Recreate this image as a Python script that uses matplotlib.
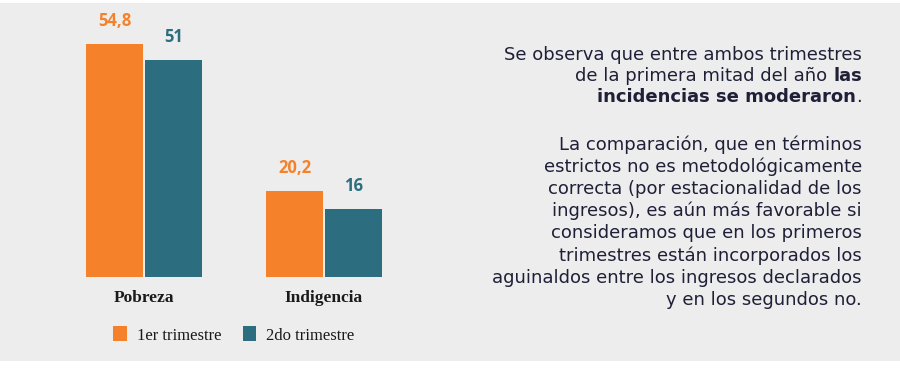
import numpy as np
import matplotlib.pyplot as plt
from matplotlib.patches import Rectangle

# data
categories = ['Pobreza', 'Indigencia']
trim1 = [54.8, 20.2]
trim2 = [51, 16]
series_names = ['1er trimestre', '2do trimestre']

orange = '#F5822A'
teal = '#2C6E7F'
bg = '#EDEDED'
txt = '#1F1F38'

fig = plt.figure(figsize=(9, 3.7), dpi=100)
fig.patch.set_facecolor('white')
fig.patches.append(Rectangle((0, 9 / 370), 1, 358 / 370, transform=fig.transFigure,
                             facecolor=bg, edgecolor='none', zorder=-5))

ax = fig.add_axes([54 / 900, 93 / 370, 360 / 900, 255 / 370])
ax.set_facecolor('none')
x = np.arange(len(categories))
w = 0.317
off = 0.164
b1 = ax.bar(x - off, trim1, w, color=orange, label=series_names[0])
b2 = ax.bar(x + off, trim2, w, color=teal, label=series_names[1])
ax.set_xlim(-0.5, 1.5)
ax.set_ylim(0, 60)
for s in ax.spines.values():
    s.set_visible(False)
ax.set_yticks([])
ax.set_xticks(x)
ax.set_xticklabels(categories, family='Liberation Serif', fontweight='bold', fontsize=12.5,
                   color='#1a1a1a')
ax.tick_params(axis='x', length=0, pad=9)

def fmt(v):
    return ('%g' % v).replace('.', ',')

for bars, vals, c in [(b1, trim1, orange), (b2, trim2, teal)]:
    for b, v in zip(bars, vals):
        ax.annotate(fmt(v), (b.get_x() + b.get_width() / 2, v), xytext=(0, 10),
                    textcoords='offset points', ha='center', va='bottom',
                    color=c, fontweight='bold', fontsize=12, family='Open Sans')

leg = fig.legend(handles=[b1, b2], labels=series_names, loc='center',
                 bbox_to_anchor=(234 / 900, 1 - 335 / 370), ncol=2, frameon=False,
                 prop={'family': 'Liberation Serif', 'size': 12}, handlelength=0.8,
                 handleheight=1.0, columnspacing=1.3, handletextpad=0.6)
for t in leg.get_texts():
    t.set_color('#1a1a1a')

# right-hand text, right aligned with mixed weights
renderer = fig.canvas.get_renderer()
fs = 13
xr = 862 / 900

def place_line(parts, y):
    xcur = xr
    for s, wt in reversed(parts):
        t = fig.text(xcur, 1 - y / 370, s, ha='right', va='center', fontsize=fs,
                     fontweight=wt, color=txt, family='DejaVu Sans')
        bb = t.get_window_extent(renderer=renderer)
        xcur -= bb.width / 900

lines = [
    ([('Se observa que entre ambos trimestres', 'normal')], 55),
    ([('de la primera mitad del año ', 'normal'), ('las', 'bold')], 76),
    ([('incidencias se moderaron', 'bold'), ('.', 'normal')], 97),
    ([('La comparación, que en términos', 'normal')], 145),
    ([('estrictos no es metodológicamente', 'normal')], 167),
    ([('correcta (por estacionalidad de los', 'normal')], 189),
    ([('ingresos), es aún más favorable si', 'normal')], 211),
    ([('consideramos que en los primeros', 'normal')], 233),
    ([('trimestres están incorporados los', 'normal')], 256),
    ([('aguinaldos entre los ingresos declarados', 'normal')], 278),
    ([('y en los segundos no.', 'normal')], 300),
]
for parts, y in lines:
    place_line(parts, y)

fig.savefig('out.png', dpi=100, facecolor=fig.get_facecolor())
